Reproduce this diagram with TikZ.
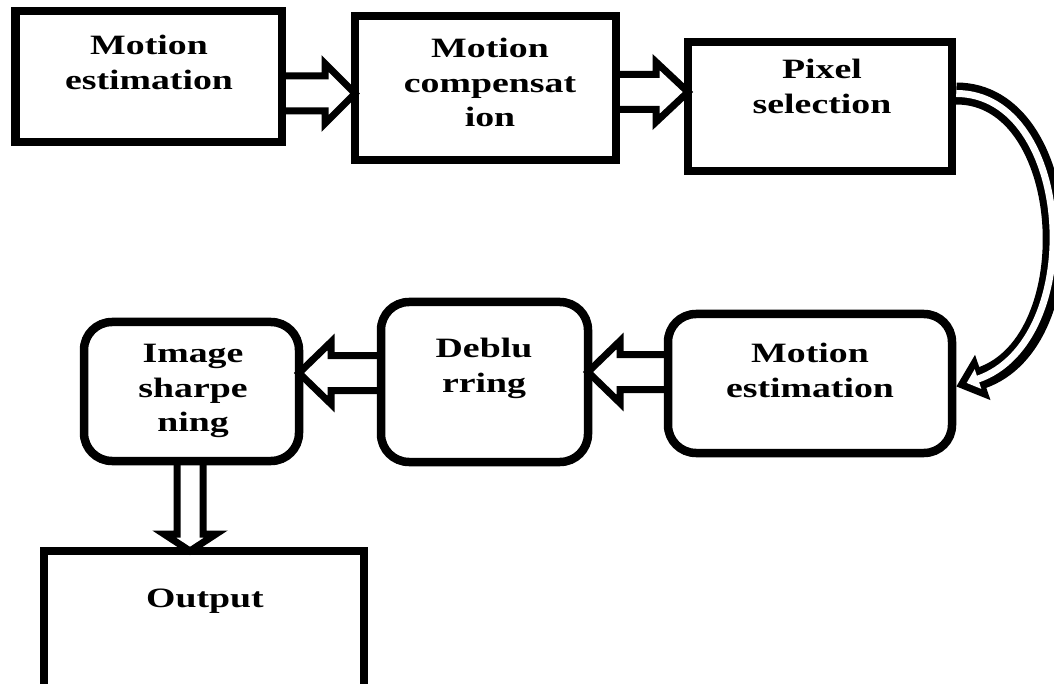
\documentclass[tikz,border=0pt]{standalone}
\usepackage{fontspec}
\setmainfont{Liberation Serif}[FakeStretch=1.35]
\usetikzlibrary{calc,arrows.meta}

% fleche creuse droite : depart, arrivee, demi-tige, demi-tete, longueur tete
\newcommand{\flechebloc}[5]{%
	\coordinate (fb) at ($(#2)!#5!(#1)$);
	\draw[bloc] ($(#1)!#3!90:(#2)$) -- ($(fb)!#3!90:(#2)$) -- ($(fb)!#4!90:(#2)$) -- (#2)
		-- ($(fb)!#4!-90:(#2)$) -- ($(fb)!#3!-90:(#2)$) -- ($(#1)!#3!-90:(#2)$);
}

\begin{document}
\begin{tikzpicture}[x=1pt, y=-1pt]
			\tikzset{boite/.style={rectangle, draw=black, line width=8.5pt, inner sep=0, outer sep=0},
				arrondi/.style={boite, rounded corners=28pt},
				texte/.style={font=\fontsize{28}{34.5}\selectfont\bfseries, align=center, inner sep=0, anchor=north},
				bloc/.style={line width=7pt, line join=miter}};

			\useasboundingbox (0,0) rectangle (1054,684);

			\node[boite, minimum width=266.5pt, minimum height=131pt] (me1) at (148.75,  76.5) {};
			\node[boite, minimum width=261pt,   minimum height=144pt] (mc)  at (485.5,   88) {};
			\node[boite, minimum width=264pt,   minimum height=129pt] (ps)  at (820,  106.5) {};
			\node[arrondi, minimum width=284pt, minimum height=139pt] (me2) at (810,  383.5) {};
			\node[arrondi, minimum width=207pt, minimum height=160pt] (deb) at (484.5, 382) {};
			\node[arrondi, minimum width=215pt, minimum height=139pt] (ims) at (191.5, 391.5) {};
			\node[boite, minimum width=320pt,   minimum height=149pt] (out) at (204,  625.5) {};

			\node[texte] (tme1) at (149,  35) {Motion\\estimation};
			\node[texte] (tmc)  at (490,  38) {Motion\\compensat\\ion};
			\node[texte] (tps)  at (822,  59) {Pixel\\selection};
			\node[texte] (tme2) at (810, 343) {Motion\\estimation};
			\node[texte] (tdeb) at (484, 338) {Deblu\\rring};
			\node[texte] (tims) at (193, 344) {Image\\sharpe\\ning};
			\node[texte] (tout) at (205, 589) {Output};

			\coordinate (a1s) at ($(me1.east)+(0,17)$);
			\coordinate (a1e) at ($(mc.west)+(0,5.5)$);
			\coordinate (a2s) at ($(mc.east)+(0,4)$);
			\coordinate (a2e) at ($(ps.west)+(0,-14.5)$);
			\coordinate (a3s) at ($(me2.west)+(0,-11.5)$);
			\coordinate (a3e) at ($(deb.east)+(0,-10)$);
			\coordinate (a4s) at ($(deb.west)+(0,-9)$);
			\coordinate (a4e) at ($(ims.east)+(0,-18.5)$);
			\coordinate (a5s) at ($(ims.south)+(-1.5,0)$);
			\coordinate (a5e) at ($(out.north)+(-14,0)$);

			\flechebloc{a1s}{a1e}{17.5pt}{30pt}{30pt}
			\flechebloc{a2s}{a2e}{17.5pt}{30pt}{32pt}
			\flechebloc{a3s}{a3e}{17.5pt}{31pt}{32pt}
			\flechebloc{a4s}{a4e}{17.5pt}{31pt}{32pt}
			\flechebloc{a5s}{a5e}{13pt}{26pt}{17pt}

			% fleche courbe
			\coordinate (cd) at ($(ps.east)+(4.25,-13)$);
			\coordinate (ca) at ($(me2.east)+(4.25,3)$);
			\draw[line width=22pt, -{Triangle[length=28pt, width=46pt]}] (cd) .. controls +(118,0) and +(132,-45) .. (ca);
			\draw[line width=7pt, white, shorten >=11pt, -{Triangle[length=12pt, width=20pt]}] (cd) .. controls +(118,0) and +(132,-45) .. (ca);

		\end{tikzpicture}
\end{document}
